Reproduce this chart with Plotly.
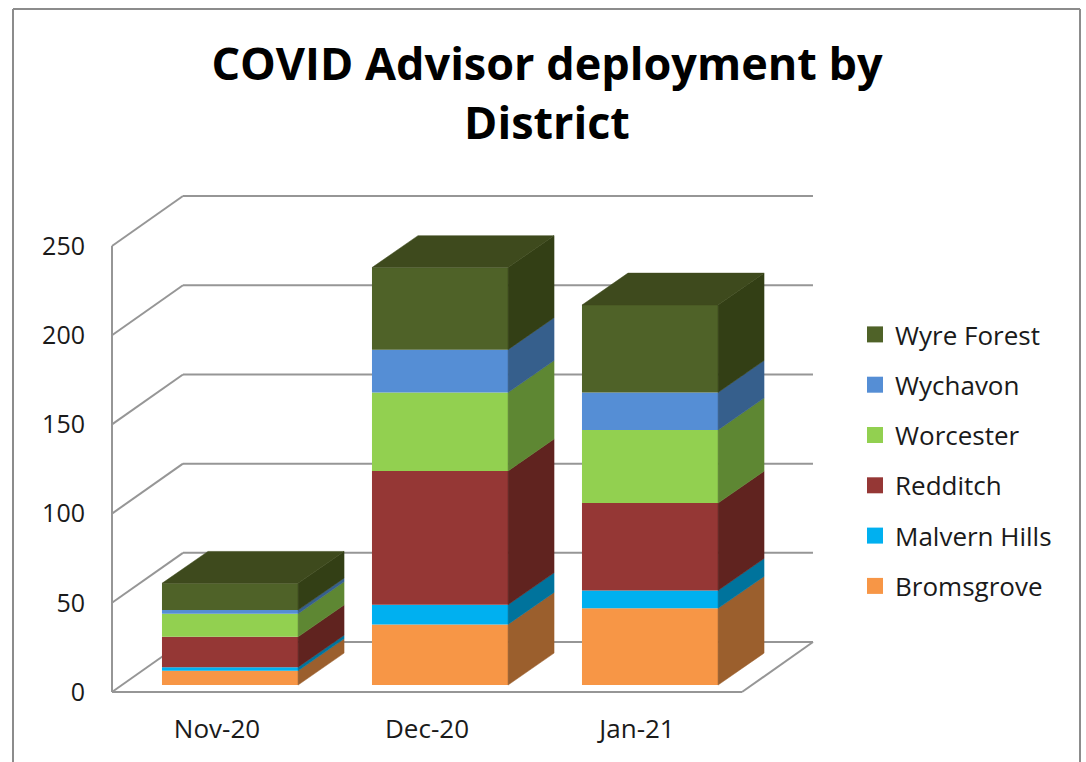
import plotly.graph_objects as go

months = ["Nov-20", "Dec-20", "Jan-21"]
districts = ["Bromsgrove", "Malvern Hills", "Redditch", "Worcester", "Wychavon", "Wyre Forest"]
bromsgrove = [8, 34, 43]
malvern_hills = [2, 11, 10]
redditch = [17, 75, 49]
worcester = [13, 44, 41]
wychavon = [2, 24, 21]
wyre_forest = [15, 46, 49]
series = [bromsgrove, malvern_hills, redditch, worcester, wychavon, wyre_forest]
y_ticks = [0, 50, 100, 150, 200, 250]

front_colors = ["#F79646", "#00B0F0", "#953735", "#92D050", "#558ED5", "#4F6228"]
side_colors = ["#9B5F2D", "#00739C", "#60231F", "#5E8733", "#365F8C", "#333F15"]
top_color = "#3E4A1D"
grid_color = "#969696"

# oblique projection parameters (axis units)
WALL_DX, WALL_DY = 0.338, 28.0      # depth of the floor
BAR_DX, BAR_DY = 0.219, 17.9        # depth of a bar
BAR_SHIFT, BAR_LIFT = 0.062, 3.9    # where the front of a bar sits on the floor
BAR_W = 0.648
X0, X1 = -0.5, 2.5

fig = go.Figure()

# Front faces
bases = [BAR_LIFT] * len(months)
stacks = []
xs = [i + BAR_SHIFT for i in range(len(months))]
for name, vals, col in zip(districts, series, front_colors):
    fig.add_bar(x=xs, y=vals, base=bases, width=BAR_W, marker=dict(color=col, line=dict(width=0)),
                name=name, showlegend=False, hoverinfo="y+name")
    stacks.append(list(bases))
    bases = [b + v for b, v in zip(bases, vals)]

# Side faces and top faces
for s, (name, vals, col) in enumerate(zip(districts, series, side_colors)):
    for i, x in enumerate(xs):
        r = x + BAR_W / 2
        lo, hi = stacks[s][i], stacks[s][i] + vals[i]
        fig.add_scatter(x=[r, r + BAR_DX, r + BAR_DX, r, r],
                        y=[lo, lo + BAR_DY, hi + BAR_DY, hi, lo],
                        mode="lines", fill="toself", fillcolor=col, line=dict(width=0.5, color=col),
                        showlegend=False, hoverinfo="skip")
for i, x in enumerate(xs):
    l, r = x - BAR_W / 2, x + BAR_W / 2
    fig.add_scatter(x=[l, r, r + BAR_DX, l + BAR_DX, l],
                    y=[bases[i], bases[i], bases[i] + BAR_DY, bases[i] + BAR_DY, bases[i]],
                    mode="lines", fill="toself", fillcolor=top_color, line=dict(width=0.5, color=top_color),
                    showlegend=False, hoverinfo="skip")

# Legend entries, top to bottom
for name, col in zip(reversed(districts), reversed(front_colors)):
    fig.add_scatter(x=[None], y=[None], mode="markers", name=name, legendgroup=name,
                    marker=dict(symbol="square", size=16, color=col))

W, H = 1086, 762
L, R, T, B = 104, 821, 186, 700     # plot area on the page
PX_PER_CAT, PX_PER_VAL = 210.0, 1.784
x_lo = X0 - (112 - L) / PX_PER_CAT
x_hi = X0 + (R - 112) / PX_PER_CAT
y_lo = -(B - 692) / PX_PER_VAL
y_hi = (692 - T) / PX_PER_VAL


def px_x(p):
    return (p - L) / (R - L)


def px_y(p):
    return (B - p) / (B - T)


# Walls and floor
def line(xa, ya, xb, yb):
    return dict(type="line", xref="x", yref="y", x0=xa, y0=ya, x1=xb, y1=yb, layer="below",
                line=dict(color=grid_color, width=2))


shapes = []
for t in y_ticks:
    shapes.append(line(X0, t, X0 + WALL_DX, t + WALL_DY))
    shapes.append(line(X0 + WALL_DX, t + WALL_DY, X1 + WALL_DX, t + WALL_DY))
shapes.append(line(X0, 0, X0, y_ticks[-1]))
shapes.append(line(X0, 0, X1, 0))
shapes.append(line(X1, 0, X1 + WALL_DX, WALL_DY))

# Outer frame (open at the bottom)
for xa, ya, xb, yb in [(13, 762, 13, 9), (13, 9, 1080, 9), (1080, 9, 1080, 762)]:
    shapes.append(dict(type="line", xref="paper", yref="paper", x0=px_x(xa), y0=px_y(ya),
                       x1=px_x(xb), y1=px_y(yb), layer="below", line=dict(color="#8C8C8C", width=2)))

fig.update_layout(
    width=W, height=H, autosize=False,
    margin=dict(l=L, r=W - R, t=T, b=H - B, pad=0),
    paper_bgcolor="white", plot_bgcolor="rgba(0,0,0,0)",
    barmode="overlay", shapes=shapes,
    font=dict(family="Open Sans, sans-serif", color="#1A1A1A", size=24),
    title=dict(text="<b>COVID Advisor deployment by<br>District</b>", x=547 / W, xanchor="center",
               xref="container", y=1 - 80 / H, yanchor="top", yref="container",
               font=dict(family="Open Sans, sans-serif", size=45, color="black"),
               pad=dict(t=0)),
    xaxis=dict(range=[x_lo, x_hi], tickvals=list(range(len(months))), ticktext=months, showgrid=False,
               zeroline=False, showline=False, ticks="", tickfont=dict(size=26), ticklabelstandoff=11),
    yaxis=dict(range=[y_lo, y_hi], tickvals=y_ticks, showgrid=False, zeroline=False, showline=False,
               ticks="", tickfont=dict(size=25), ticklabelstandoff=18),
    legend=dict(x=px_x(855), y=px_y(311), xanchor="left", yanchor="top",
                tracegroupgap=13.5, traceorder="grouped", font=dict(size=26), bgcolor="rgba(0,0,0,0)"),
)
fig.write_html("out.html", config={"displayModeBar": False},
               post_script="document.body.style.margin='0';document.documentElement.style.overflow='hidden';")
